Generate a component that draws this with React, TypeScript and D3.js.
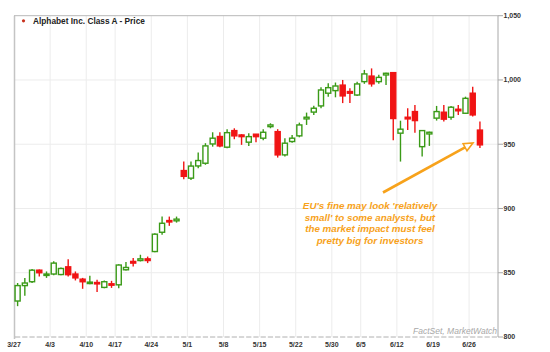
import React, {useRef, useEffect} from 'react';
import * as d3 from 'd3';

// trading sessions shown on the chart
const dates = [
    '3/27', '3/28', '3/29', '3/30', '3/31',
    '4/3', '4/4', '4/5', '4/6', '4/7',
    '4/10', '4/11', '4/12', '4/13',
    '4/17', '4/18', '4/19', '4/20', '4/21',
    '4/24', '4/25', '4/26', '4/27', '4/28',
    '5/1', '5/2', '5/3', '5/4', '5/5',
    '5/8', '5/9', '5/10', '5/11', '5/12',
    '5/15', '5/16', '5/17', '5/18', '5/19',
    '5/22', '5/23', '5/24', '5/25', '5/26',
    '5/30', '5/31', '6/1', '6/2',
    '6/5', '6/6', '6/7', '6/8', '6/9',
    '6/12', '6/13', '6/14', '6/15', '6/16',
    '6/19', '6/20', '6/21', '6/22', '6/23',
    '6/26', '6/27',
];

const opens = [
    828, 840, 843, 852, 848,
    849, 848.6, 854.6, 849, 845,
    841.6, 842.4, 838.6, 841.4,
    840.6, 852.3, 858.8, 859.5, 860.8,
    866.5, 881.5, 890.6, 890.4, 929.5,
    923.6, 933.1, 935.2, 950.2, 956,
    947.7, 960.6, 957.2, 951.6, 957.8,
    954.7, 963.7, 959.8, 941.7, 952.1,
    956.5, 969.7, 975, 979.8, 989.7,
    991.7, 996, 991, 988.3,
    998.7, 1003, 998.7, 1003.9, 1005.7,
    958.6, 971, 975.4, 948.1, 958,
    970.3, 974.9, 971, 977.2, 974.1,
    989.7, 961,
];

const highs = [
    842, 846, 853, 852.5, 851,
    859, 854, 860.5, 851, 846,
    847.6, 844.5, 844, 843.7,
    856.7, 858.3, 861.4, 864, 862.6,
    880.8, 893.7, 893.7, 893.7, 936.5,
    936.5, 943.5, 950.8, 959.3, 959.3,
    961.7, 962.4, 957.8, 958.5, 958,
    961.7, 966.3, 961.7, 954.7, 957.2,
    966.8, 974.6, 980, 994.3, 997.4,
    998, 1000, 993.5, 998.7,
    1007.8, 1009, 1004, 1005.7, 1005.7,
    968.3, 978, 980.6, 961.1, 959.8,
    979.8, 980.6, 979.8, 980.6, 987,
    994.8, 967.6,
];

const lows = [
    824, 832, 842, 847, 846,
    848, 848, 847, 844, 837.5,
    841, 835, 838, 838.2,
    838, 851.7, 854.9, 858.8, 857.5,
    866, 879.5, 886.5, 889, 922.8,
    922.2, 931.3, 934, 948.1, 947.7,
    946.9, 953.9, 949.5, 948.7, 951.6,
    953, 962.4, 939.6, 940.4, 951.2,
    955.4, 965, 972.8, 978, 987,
    986.5, 982, 982, 987.6,
    997, 994.8, 997, 996.1, 953,
    936.5, 961, 959, 940.4, 948.7,
    968.4, 967.6, 969, 972.8, 973.6,
    971.5, 947,
];

const closes = [
    840, 842, 852, 850, 849,
    857.5, 853.3, 848.5, 846, 843,
    842.7, 841.4, 843, 840.6,
    856, 854.1, 857.5, 860.8, 859.5,
    880, 888.5, 889.6, 891.7, 925,
    933, 937.3, 948.7, 954.7, 948.7,
    959, 956.5, 955.9, 955.9, 955.9,
    959.3, 965, 941.7, 950.8, 954.7,
    965, 971, 978, 992.2, 994,
    995.3, 987.6, 989.7, 996.9,
    1004.7, 997, 1002, 1005.2, 970,
    961.7, 969.7, 968.4, 960.6, 959.3,
    975.4, 969.5, 978.8, 976, 985.7,
    972.8, 949.5,
];

const weekTicks = ['3/27', '4/3', '4/10', '4/17', '4/24', '5/1', '5/8', '5/15', '5/22', '5/30', '6/5', '6/12', '6/19', '6/26'];
const priceTicks = [800, 850, 900, 950, 1000, 1050];

const title = 'Alphabet Inc. Class A - Price';
const noteLines = [
    "EU's fine may look 'relatively",
    "small' to some analysts, but",
    'the market impact must feel',
    'pretty big for investors',
];
const source = 'FactSet, MarketWatch';

const width = 550;
const height = 352;
const plotLeft = 14;
const plotRight = 498;
const plotTop = 15.7;
const plotBottom = 337;
// axis keeps room for two more sessions after the last candle
const slots = dates.length + 2;

const green = '#3a9a17';
const red = '#f01414';
const orange = '#f7a21b';
const font = '"Liberation Sans", Arial, sans-serif';

const App: React.FC = () => {
    const svgRef = useRef<SVGSVGElement>(null);

    useEffect(() => {
        if (!svgRef.current) return;
        const svg = d3.select(svgRef.current);
        svg.selectAll('*').remove();

        const step = (plotRight - plotLeft) / slots;
        const x = d3.scaleBand<string>()
            .domain(dates)
            .range([plotLeft, plotLeft + step * dates.length])
            .paddingInner(0.3)
            .paddingOuter(0.15);
        const bw = x.bandwidth();
        const xc = (d: string) => (x(d) as number) + bw / 2;
        const xStart = (d: string) => xc(d) - x.step() / 2;

        const y = d3.scaleLinear().domain([800, 1050]).range([plotBottom, plotTop]);

        svg.append('rect').attr('width', width).attr('height', height).attr('fill', '#fff');

        // grid
        svg.append('g')
            .selectAll('line')
            .data(priceTicks.slice(1, -1))
            .join('line')
            .attr('x1', plotLeft).attr('x2', plotRight)
            .attr('y1', d => y(d)).attr('y2', d => y(d))
            .attr('stroke', '#ececec');

        svg.append('g')
            .selectAll('line')
            .data(weekTicks.slice(1))
            .join('line')
            .attr('x1', d => xStart(d)).attr('x2', d => xStart(d))
            .attr('y1', plotTop).attr('y2', plotBottom)
            .attr('stroke', '#ececec');

        // frame
        svg.append('line')
            .attr('x1', plotLeft + 0.5).attr('x2', plotLeft + 0.5)
            .attr('y1', plotTop).attr('y2', plotBottom + 2)
            .attr('stroke', '#c4c4c4').attr('stroke-width', 1.5);
        svg.append('line')
            .attr('x1', plotLeft).attr('x2', plotRight)
            .attr('y1', plotTop).attr('y2', plotTop)
            .attr('stroke', '#b8b8b8');
        svg.append('line')
            .attr('x1', plotRight).attr('x2', plotRight)
            .attr('y1', plotTop).attr('y2', plotBottom)
            .attr('stroke', '#a8a8a8');

        // bottom axis, one dash per session
        svg.append('g')
            .selectAll('line')
            .data(d3.range(slots))
            .join('line')
            .attr('x1', i => plotLeft + i * step + 1)
            .attr('x2', i => plotLeft + (i + 1) * step - 1)
            .attr('y1', plotBottom).attr('y2', plotBottom)
            .attr('stroke', '#b0b0b0');

        // right price axis
        const yAxis = svg.append('g');
        yAxis.selectAll('line')
            .data(priceTicks)
            .join('line')
            .attr('x1', plotRight).attr('x2', plotRight + 5)
            .attr('y1', d => y(d)).attr('y2', d => y(d))
            .attr('stroke', '#a8a8a8');
        yAxis.selectAll('text')
            .data(priceTicks)
            .join('text')
            .attr('x', plotRight + 5.5)
            .attr('y', d => y(d))
            .attr('dy', '0.35em')
            .style('font-family', font)
            .style('font-size', '7px')
            .style('font-weight', 'bold')
            .attr('fill', '#333')
            .text(d => d3.format(',')(d));

        // date labels
        svg.append('g')
            .selectAll('text')
            .data(weekTicks)
            .join('text')
            .attr('x', d => xStart(d))
            .attr('y', plotBottom + 10)
            .attr('text-anchor', 'middle')
            .style('font-family', font)
            .style('font-size', '7px')
            .style('font-weight', 'bold')
            .attr('fill', '#333')
            .text(d => d);

        // source watermark
        svg.append('text')
            .attr('x', plotRight - 1)
            .attr('y', plotBottom - 3)
            .attr('text-anchor', 'end')
            .style('font-family', font)
            .style('font-size', '8.5px')
            .style('font-style', 'italic')
            .attr('fill', '#a8a8a8')
            .text(source);

        // candles
        const rows = dates.map((d, i) => ({d, o: opens[i], h: highs[i], l: lows[i], c: closes[i]}));
        const candles = svg.append('g')
            .selectAll('g')
            .data(rows)
            .join('g');

        candles.append('line')
            .attr('x1', r => xc(r.d)).attr('x2', r => xc(r.d))
            .attr('y1', r => y(r.h)).attr('y2', r => y(r.l))
            .attr('stroke', r => (r.c >= r.o ? green : red))
            .attr('stroke-width', 1.4);

        candles.append('rect')
            .attr('x', r => x(r.d) as number)
            .attr('width', bw)
            .attr('y', r => y(Math.max(r.o, r.c)))
            .attr('height', r => Math.max(1.4, Math.abs(y(r.o) - y(r.c))))
            .attr('fill', r => (r.c >= r.o ? '#fff' : red))
            .attr('stroke', r => (r.c >= r.o ? green : red))
            .attr('stroke-width', 1.4);

        // title
        svg.append('circle').attr('cx', 23.5).attr('cy', 20.8).attr('r', 1.6).attr('fill', '#c8321e');
        svg.append('text')
            .attr('x', 33)
            .attr('y', 24)
            .style('font-family', font)
            .style('font-size', '8.3px')
            .style('font-weight', 'bold')
            .attr('fill', '#222')
            .text(title);

        // annotation
        svg.append('g')
            .selectAll('text')
            .data(noteLines)
            .join('text')
            .attr('x', 370)
            .attr('y', (_, i) => 208.7 + i * 11.8)
            .attr('text-anchor', 'middle')
            .style('font-family', font)
            .style('font-size', '9.8px')
            .style('font-weight', 'bold')
            .style('font-style', 'italic')
            .attr('fill', orange)
            .text(d => d);

        const tip: [number, number] = [xc('6/27') - 7, y(951)];
        const start: [number, number] = [383, 192.5];
        const ang = Math.atan2(tip[1] - start[1], tip[0] - start[0]);
        const headLen = 9;
        const headHalf = 4;
        const base: [number, number] = [tip[0] - headLen * Math.cos(ang), tip[1] - headLen * Math.sin(ang)];
        svg.append('line')
            .attr('x1', start[0]).attr('y1', start[1])
            .attr('x2', base[0]).attr('y2', base[1])
            .attr('stroke', orange).attr('stroke-width', 2.6);
        const px = -Math.sin(ang);
        const py = Math.cos(ang);
        svg.append('path')
            .attr('d', `M${tip[0]},${tip[1]}L${base[0] + px * headHalf},${base[1] + py * headHalf}L${base[0] - px * headHalf},${base[1] - py * headHalf}Z`)
            .attr('fill', '#fff')
            .attr('stroke', orange)
            .attr('stroke-width', 1.6)
            .attr('stroke-linejoin', 'miter');
    }, []);

    return (
        <svg
            ref={svgRef}
            width={width}
            height={height}
            style={{position: 'absolute', left: 0, top: 0}}
        />
    );
};

export default App;
